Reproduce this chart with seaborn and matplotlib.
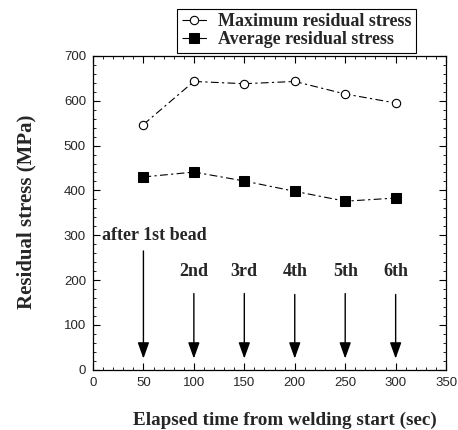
import matplotlib
matplotlib.use("Agg")
import matplotlib.pyplot as plt
import seaborn as sns
import pandas as pd
from matplotlib.ticker import MultipleLocator

# ---- data ----
time_sec = [50, 100, 150, 200, 250, 300]
max_stress = [547, 643, 638, 643, 615, 595]
avg_stress = [430, 441, 421, 398, 376, 383]
bead_labels = ["after 1st bead", "2nd", "3rd", "4th", "5th", "6th"]
arrow_top = [265, 170, 170, 168, 170, 168]
arrow_tip = [25, 25, 25, 25, 25, 25]
series_names = ["Maximum residual stress", "Average residual stress"]

sns.set_style("ticks")
plt.rcParams["font.family"] = ["Liberation Sans", "DejaVu Sans"]

fig = plt.figure(figsize=(4.58, 4.30), dpi=100)
ax = fig.add_axes([0.203, 0.140, 0.771, 0.730])

df = pd.DataFrame({"time": time_sec * 2,
                   "stress": max_stress + avg_stress,
                   "series": [series_names[0]] * 6 + [series_names[1]] * 6})

sns.lineplot(data=df[df.series == series_names[0]], x="time", y="stress", ax=ax,
             color="black", lw=0.8, marker="o", markersize=6,
             markerfacecolor="white", markeredgecolor="black", markeredgewidth=0.8,
             dashes=False, label=series_names[0])
ax.lines[-1].set_dashes([7, 3, 2, 3])
sns.lineplot(data=df[df.series == series_names[1]], x="time", y="stress", ax=ax,
             color="black", lw=0.8, marker="s", markersize=7.5,
             markerfacecolor="black", markeredgecolor="black",
             dashes=False, label=series_names[1])
ax.lines[-1].set_dashes([7, 3, 2, 3])

serif = ["Liberation Serif", "DejaVu Serif"]
for i, (x, lab) in enumerate(zip(time_sec, bead_labels)):
    ax.annotate("", xy=(x, arrow_tip[i]), xytext=(x, arrow_top[i]),
                arrowprops=dict(arrowstyle="-|>,head_length=0.7,head_width=0.25",
                                color="black", lw=1.0, mutation_scale=14,
                                shrinkA=0, shrinkB=0))
    if i == 0:
        ax.text(9, 300, lab, ha="left", va="center", fontsize=13,
                fontweight="bold", family=serif)
    else:
        ax.text(x, 220, lab, ha="center", va="center", fontsize=13,
                fontweight="bold", family=serif)

ax.set_xlim(0, 350)
ax.set_ylim(0, 700)
ax.xaxis.set_major_locator(MultipleLocator(50))
ax.xaxis.set_minor_locator(MultipleLocator(10))
ax.yaxis.set_major_locator(MultipleLocator(100))
ax.yaxis.set_minor_locator(MultipleLocator(20))
ax.tick_params(which="both", direction="in", top=True, right=True, labelsize=9.5,
               color="black", pad=5)
ax.tick_params(which="major", length=5, width=0.8)
ax.tick_params(which="minor", length=2.5, width=0.6)
for s in ax.spines.values():
    s.set_linewidth(0.9)
    s.set_color("black")

ax.set_xlabel("Elapsed time from welding start (sec)", fontsize=13.8,
              fontweight="bold", family=serif)
ax.set_ylabel("Residual stress (MPa)", fontsize=15,
              fontweight="bold", family=serif)
ax.xaxis.set_label_coords(0.544, -0.135)
ax.yaxis.set_label_coords(-0.16, 0.503)

leg = ax.legend(loc="lower left", bbox_to_anchor=(0.367, 0.856),
                bbox_transform=fig.transFigure, frameon=True, fancybox=False,
                edgecolor="black", framealpha=1, borderpad=0.25,
                handlelength=1.4, handletextpad=0.6, labelspacing=0.05,
                prop={"family": serif, "weight": "bold", "size": 13})
leg.get_frame().set_linewidth(0.8)

fig.savefig("out.png", dpi=100)
